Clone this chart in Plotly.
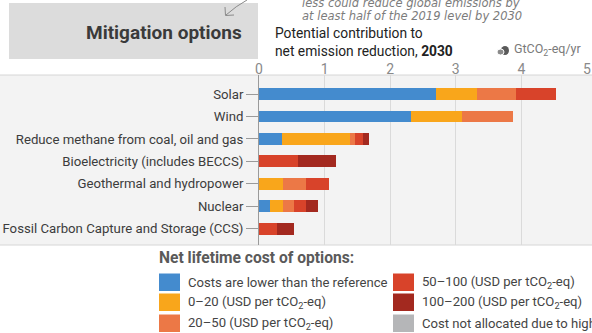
import plotly.graph_objects as go

W, H = 592, 333

# Mitigation options (top to bottom) and their cost-band contributions, GtCO2-eq/yr
options = [
    "Solar",
    "Wind",
    "Reduce methane from coal, oil and gas",
    "Bioelectricity (includes BECCS)",
    "Geothermal and hydropower",
    "Nuclear",
    "Fossil Carbon Capture and Storage (CCS)",
]
lower_than_ref = [2.70, 2.32, 0.35, 0.00, 0.00, 0.17, 0.00]
cost_0_20 = [0.62, 0.78, 1.03, 0.00, 0.37, 0.20, 0.00]
cost_20_50 = [0.60, 0.77, 0.09, 0.00, 0.35, 0.17, 0.00]
cost_50_100 = [0.60, 0.00, 0.12, 0.59, 0.34, 0.17, 0.27]
cost_100_200 = [0.00, 0.00, 0.08, 0.59, 0.00, 0.19, 0.27]
not_allocated = [0.00, 0.00, 0.00, 0.00, 0.00, 0.00, 0.00]

x_ticks = [0, 1, 2, 3, 4, 5]

band_labels = [
    "Costs are lower than the reference",
    "0–20 (USD per tCO<sub>2</sub>-eq)",
    "20–50 (USD per tCO<sub>2</sub>-eq)",
    "50–100 (USD per tCO<sub>2</sub>-eq)",
    "100–200 (USD per tCO<sub>2</sub>-eq)",
    "Cost not allocated due to high",
]
band_colors = ["#448bce", "#f9a61b", "#ec7846", "#d8432a", "#a3291f", "#b5b6b8"]
band_values = [lower_than_ref, cost_0_20, cost_20_50, cost_50_100, cost_100_200, not_allocated]

FONT = "Roboto, Arial, sans-serif"


def px(x):
    return x / W


def py(y):
    return 1 - y / H


fig = go.Figure()
for name, color, vals in zip(band_labels, band_colors, band_values):
    fig.add_trace(go.Bar(
        y=options, x=vals, orientation="h", name=name,
        marker=dict(color=color, line=dict(width=0)),
        width=0.53, showlegend=False, hoverinfo="x+y",
    ))

# category positions: index 0 at y=94px, 22.45px per step
step = 22.45
top_idx = (75 - 94) / step
bot_idx = (245 - 94) / step

fig.update_layout(
    width=W, height=H,
    margin=dict(l=0, r=0, t=0, b=0, autoexpand=False),
    paper_bgcolor="white",
    plot_bgcolor="rgba(0,0,0,0)",
    barmode="stack",
    bargap=0,
    font=dict(family=FONT, color="#3c3c3c"),
    xaxis=dict(
        domain=[px(259), px(587)], range=[0, 5], side="top",
        tickvals=x_ticks, ticktext=[str(t) for t in x_ticks],
        tickfont=dict(size=14, color="#8a8a8a", family=FONT),
        ticklabelstandoff=-3,
        showgrid=True, gridcolor="#dadada", gridwidth=1,
        zeroline=False, showline=False, ticks="", fixedrange=True,
        automargin=False,
    ),
    yaxis=dict(
        domain=[py(245), py(75)],
        categoryorder="array", categoryarray=options,
        range=[bot_idx, top_idx],
        tickfont=dict(size=13.2, color="#3c3c3c", family=FONT),
        ticks="outside", ticklen=12, tickcolor="#9a9a9a", tickwidth=1,
        showline=True, linecolor="#9a9a9a", linewidth=1,
        showgrid=False, zeroline=False, fixedrange=True,
        automargin=False,
    ),
)

shapes = [
    # light panel behind the bars
    dict(type="rect", xref="paper", yref="paper", x0=0, x1=1, y0=py(245), y1=py(75),
         fillcolor="#f3f3f3", line=dict(width=0), layer="below"),
    dict(type="line", xref="paper", yref="paper", x0=0, x1=1, y0=py(75), y1=py(75),
         line=dict(color="#d6d6d6", width=1), layer="below"),
    dict(type="line", xref="paper", yref="paper", x0=0, x1=1, y0=py(245), y1=py(245),
         line=dict(color="#d6d6d6", width=1), layer="below"),
    # title box
    dict(type="rect", xref="paper", yref="paper", x0=px(9), x1=px(258), y0=py(59), y1=py(3),
         fillcolor="#dcdcdc", line=dict(width=0), layer="below"),
    # hand-drawn pointer arrow
    dict(type="path", xref="paper", yref="paper",
         path=f"M {px(247)},{py(0)} Q {px(236)},{py(6)} {px(226)},{py(15)}",
         line=dict(color="#8a8a8a", width=1)),
    dict(type="path", xref="paper", yref="paper",
         path=f"M {px(225)},{py(7)} L {px(225.5)},{py(15.5)} L {px(234)},{py(15)}",
         line=dict(color="#8a8a8a", width=1)),
    # small cloud icon beside the unit
    dict(type="circle", xref="paper", yref="paper", x0=px(501), x1=px(509), y0=py(55), y1=py(46),
         fillcolor="#5a5a5a", line=dict(width=0)),
    dict(type="circle", xref="paper", yref="paper", x0=px(497), x1=px(504), y0=py(55), y1=py(49),
         fillcolor="#8a8a8a", line=dict(color="white", width=1)),
]

annotations = [
    dict(text="<b>Mitigation options</b>", x=px(244), y=py(32), xanchor="right", yanchor="middle",
         font=dict(size=19, color="#3a3a3a", family=FONT)),
    dict(text="less could reduce global emissions by", x=px(300), y=py(3), xanchor="left",
         yanchor="middle", font=dict(size=11.5, color="#7c7c7c", family="DejaVu Sans", style="italic")),
    dict(text="at least half of the 2019 level by 2030", x=px(300), y=py(16), xanchor="left",
         yanchor="middle", font=dict(size=11.5, color="#7c7c7c", family="DejaVu Sans", style="italic")),
    dict(text="Potential contribution to<br>net emission reduction, <b>2030</b>", x=px(273), y=py(42),
         xanchor="left", yanchor="middle", align="left",
         font=dict(size=13.8, color="#222222", family=FONT)),
    dict(text="GtCO<sub>2</sub>-eq/yr", x=px(512), y=py(50), xanchor="left", yanchor="middle",
         font=dict(size=12.5, color="#7a7a7a", family=FONT)),
    dict(text="<b>Net lifetime cost of options:</b>", x=px(157), y=py(258), xanchor="left",
         yanchor="middle", font=dict(size=15.6, color="#5a5a5a", family=FONT)),
]

# legend: two columns of three swatches
legend_cols = [159, 393]
legend_rows = [282, 302, 323]
for i, (name, color) in enumerate(zip(band_labels, band_colors)):
    col, row = divmod(i, 3)
    x0 = legend_cols[col]
    yc = legend_rows[row]
    shapes.append(dict(type="rect", xref="paper", yref="paper",
                       x0=px(x0), x1=px(x0 + 21), y0=py(yc + 9), y1=py(yc - 8.5),
                       fillcolor=color, line=dict(width=0)))
    annotations.append(dict(text=name, x=px(x0 + 27), y=py(yc), xanchor="left", yanchor="middle",
                            font=dict(size=13.1, color="#444444", family=FONT)))

for a in annotations:
    a.update(xref="paper", yref="paper", showarrow=False)

fig.update_layout(shapes=shapes, annotations=annotations)
fig.write_html("out.html")
